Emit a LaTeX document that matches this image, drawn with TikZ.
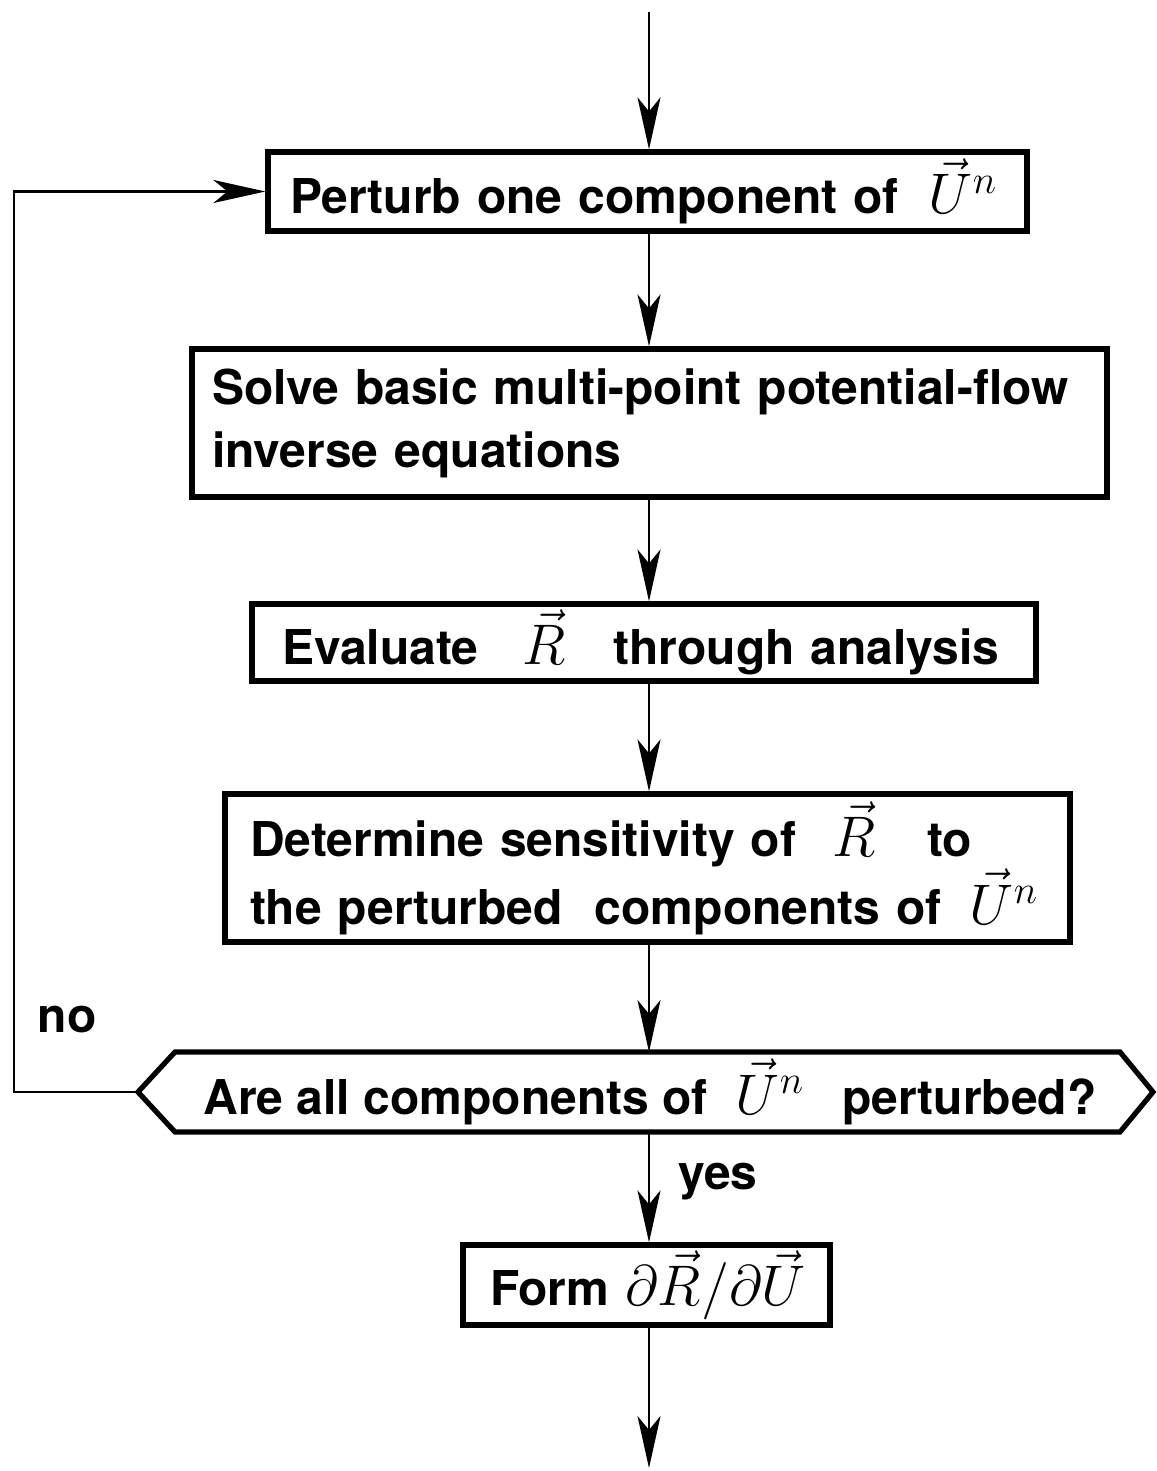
\documentclass[tikz,border=0pt]{standalone}
\usepackage{graphicx}
\usepackage[no-math]{fontspec}
\newfontfamily\hv{TeX Gyre Heros}
\usetikzlibrary{arrows.meta}
\newcommand\mth[1]{\scalebox{1.15}{$#1$}}
\tikzset{
  box/.style={draw, line width=2.6pt, inner ysep=0pt, align=left,
    font=\hv\bfseries\fontsize{24}{31.5}\selectfont},
  arr/.style={line width=1.4pt, -{Stealth[length=26pt,width=11.5pt,inset=7pt]}},
  lbl/.style={font=\hv\bfseries\fontsize{24}{28}\selectfont, inner sep=0pt},
  hexline/.style={line width=2.6pt, line join=miter}
}
\begin{document}
\begin{tikzpicture}[x=0.5pt,y=-0.5pt]
\fill[white] (0,0) rectangle (1156,1471);
\useasboundingbox (0,0) rectangle (1156,1471);

\coordinate (top) at (649,12);
\coordinate (bot) at (649,1468);
\coordinate (lx) at (14,0);

\node[box, inner xsep=11pt, text width=357.5pt, minimum height=39.5pt] (b1) at (647.5,191.5)
  {\mbox{Perturb one component of\hspace{15pt}\mth{\vec U^n}}};
\node[box, inner xsep=10pt, text width=437.5pt, minimum height=74pt] (b2) at (649.5,423)
  {\mbox{Solve basic multi-point potential-flow}\\\mbox{inverse equations}};
\node[box, inner xsep=15pt, text width=362pt, minimum height=38.5pt] (b3) at (644,642.5)
  {\mbox{Evaluate\hspace{22pt}\mth{\vec R}\hspace{24pt}through analysis}};
\node[box, inner xsep=12.5pt, text width=397.5pt, minimum height=74pt] (b4) at (647.5,868)
  {\mbox{Determine sensitivity of\hspace{18pt}\mth{\vec R}\hspace{26pt}to}\\
   \mbox{the perturbed\ \ components of\hspace{14pt}\mth{\vec U^n}}};

% decision hexagon
\coordinate (htl) at (175,1052);
\coordinate (htr) at (1120,1052);
\coordinate (hr) at (1153,1092);
\coordinate (hbr) at (1120,1132);
\coordinate (hbl) at (175,1132);
\coordinate (hl) at (138,1092);
\coordinate (ht) at (649,1052);
\coordinate (hb) at (649,1132);
\draw[hexline] (htl) -- (htr) -- (hr) -- (hbr) -- (hbl) -- (hl) -- cycle;
\node[font=\hv\bfseries\fontsize{24}{31.5}\selectfont, inner sep=0pt] (q) at (650,1092)
  {Are all components of\hspace{14pt}\mth{\vec U^n}\hspace{19pt}perturbed?};

\node[box, inner xsep=13.5pt, text width=156.5pt, minimum height=40pt] (f) at (646.5,1285)
  {\mbox{Form \mth{\partial\vec R/\partial\vec U}}};

\node[lbl] (no) at (67,1020) {no};
\node[lbl] (yes) at (718,1182) {yes};

\draw[arr] (top) -- (b1.north -| top);
\draw[arr] (b1.south -| top) -- (b2.north -| top);
\draw[arr] (b2.south -| top) -- (b3.north -| top);
\draw[arr] (b3.south -| top) -- (b4.north -| top);
\draw[arr] (b4.south -| top) -- (ht);
\draw[arr] (hb) -- (f.north -| top);
\draw[arr] (f.south -| top) -- (bot);
\draw[arr] (hl) -- (hl -| lx) |- (b1.west);
\end{tikzpicture}
\end{document}
